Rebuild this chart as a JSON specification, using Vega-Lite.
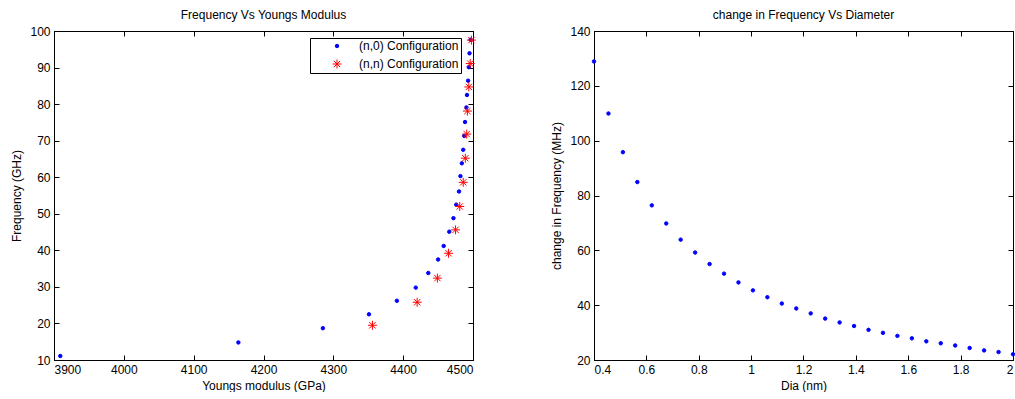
{
  "$schema": "https://vega.github.io/schema/vega-lite/v6.json",
  "background": "white",
  "padding": {"left": 10, "top": 8, "right": 0, "bottom": 0},
  "bounds": "flush",
  "spacing": 121,
  "datasets": {
    "young": [
      {"E": 3909, "f": 11.1, "config": "(n,0) Configuration"},
      {"E": 4164, "f": 14.8, "config": "(n,0) Configuration"},
      {"E": 4285, "f": 18.7, "config": "(n,0) Configuration"},
      {"E": 4351, "f": 22.5, "config": "(n,0) Configuration"},
      {"E": 4391, "f": 26.2, "config": "(n,0) Configuration"},
      {"E": 4418, "f": 29.8, "config": "(n,0) Configuration"},
      {"E": 4436, "f": 33.8, "config": "(n,0) Configuration"},
      {"E": 4450, "f": 37.5, "config": "(n,0) Configuration"},
      {"E": 4458, "f": 41.2, "config": "(n,0) Configuration"},
      {"E": 4466, "f": 45.1, "config": "(n,0) Configuration"},
      {"E": 4472, "f": 48.8, "config": "(n,0) Configuration"},
      {"E": 4476, "f": 52.5, "config": "(n,0) Configuration"},
      {"E": 4480, "f": 56.1, "config": "(n,0) Configuration"},
      {"E": 4482, "f": 60.3, "config": "(n,0) Configuration"},
      {"E": 4484, "f": 63.8, "config": "(n,0) Configuration"},
      {"E": 4486, "f": 67.5, "config": "(n,0) Configuration"},
      {"E": 4487.5, "f": 71.3, "config": "(n,0) Configuration"},
      {"E": 4488.6, "f": 75.1, "config": "(n,0) Configuration"},
      {"E": 4490.6, "f": 79.1, "config": "(n,0) Configuration"},
      {"E": 4491.4, "f": 82.5, "config": "(n,0) Configuration"},
      {"E": 4493, "f": 86.4, "config": "(n,0) Configuration"},
      {"E": 4494, "f": 90.1, "config": "(n,0) Configuration"},
      {"E": 4495, "f": 93.9, "config": "(n,0) Configuration"},
      {"E": 4496.5, "f": 97.6, "config": "(n,0) Configuration"},
      {"E": 4356, "f": 19.5, "config": "(n,n) Configuration"},
      {"E": 4420, "f": 25.8, "config": "(n,n) Configuration"},
      {"E": 4449, "f": 32.4, "config": "(n,n) Configuration"},
      {"E": 4465, "f": 39.2, "config": "(n,n) Configuration"},
      {"E": 4475, "f": 45.6, "config": "(n,n) Configuration"},
      {"E": 4481, "f": 52.0, "config": "(n,n) Configuration"},
      {"E": 4486, "f": 58.6, "config": "(n,n) Configuration"},
      {"E": 4489, "f": 65.2, "config": "(n,n) Configuration"},
      {"E": 4491, "f": 71.8, "config": "(n,n) Configuration"},
      {"E": 4492, "f": 78.1, "config": "(n,n) Configuration"},
      {"E": 4494, "f": 84.7, "config": "(n,n) Configuration"},
      {"E": 4496, "f": 91.1, "config": "(n,n) Configuration"},
      {"E": 4497.7, "f": 97.5, "config": "(n,n) Configuration"}
    ],
    "dia": [
      {"d": 0.4, "df": 128.9}, {"d": 0.4552, "df": 109.9}, {"d": 0.5103, "df": 95.8},
      {"d": 0.5655, "df": 84.9}, {"d": 0.6207, "df": 76.4}, {"d": 0.6759, "df": 69.8},
      {"d": 0.731, "df": 63.9}, {"d": 0.7862, "df": 59.2}, {"d": 0.8414, "df": 55.0},
      {"d": 0.8966, "df": 51.5}, {"d": 0.9517, "df": 48.3}, {"d": 1.0069, "df": 45.4},
      {"d": 1.0621, "df": 42.9}, {"d": 1.1172, "df": 40.6}, {"d": 1.1724, "df": 38.8},
      {"d": 1.2276, "df": 37.0}, {"d": 1.2828, "df": 35.1}, {"d": 1.3379, "df": 33.7},
      {"d": 1.3931, "df": 32.4}, {"d": 1.4483, "df": 31.0}, {"d": 1.5034, "df": 29.9},
      {"d": 1.5586, "df": 28.8}, {"d": 1.6138, "df": 27.9}, {"d": 1.669, "df": 26.8},
      {"d": 1.7241, "df": 26.1}, {"d": 1.7793, "df": 25.3}, {"d": 1.8345, "df": 24.4},
      {"d": 1.8897, "df": 23.5}, {"d": 1.9448, "df": 22.9}, {"d": 2.0, "df": 22.1}
    ]
  },
  "hconcat": [
    {
      "width": 419,
      "height": 329,
      "title": "Frequency Vs Youngs Modulus",
      "data": {"name": "young"},
      "resolve": {"scale": {"x": "independent", "y": "independent"}},
      "layer": [
        {
          "mark": {"type": "point", "filled": true, "strokeWidth": 1, "opacity": 1},
          "encoding": {
            "x": {"field": "E", "type": "quantitative", "title": "Youngs modulus (GPa)",
                  "scale": {"domain": [3900, 4500], "nice": false, "zero": false},
                  "axis": {"values": [3900, 4000, 4100, 4200, 4300, 4400, 4500], "format": "d"}},
            "y": {"field": "f", "type": "quantitative", "title": "Frequency (GHz)",
                  "scale": {"domain": [10, 100], "nice": false, "zero": false},
                  "axis": {"values": [10, 20, 30, 40, 50, 60, 70, 80, 90, 100]}},
            "color": {"field": "config", "type": "nominal", "title": null,
                      "scale": {"domain": ["(n,0) Configuration", "(n,n) Configuration"], "range": ["#0000ff", "#ff0000"]},
                      "legend": {"orient": "none", "legendX": 256, "legendY": 7}},
            "stroke": {"field": "config", "type": "nominal", "title": null,
                       "scale": {"domain": ["(n,0) Configuration", "(n,n) Configuration"], "range": ["#0000ff", "#ff0000"]},
                       "legend": {"orient": "none", "legendX": 256, "legendY": 7}},
            "shape": {"field": "config", "type": "nominal", "title": null,
                      "scale": {"domain": ["(n,0) Configuration", "(n,n) Configuration"], "range": ["circle", "M-1,0L1,0M0,-1L0,1M-0.7,-0.7L0.7,0.7M-0.7,0.7L0.7,-0.7"]},
                      "legend": {"orient": "none", "legendX": 256, "legendY": 7}},
            "size": {"field": "config", "type": "nominal", "title": null,
                     "scale": {"domain": ["(n,0) Configuration", "(n,n) Configuration"], "range": [12, 81]},
                     "legend": {"orient": "none", "legendX": 256, "legendY": 7}}
          }
        },
        {
          "mark": {"type": "point", "opacity": 0},
          "encoding": {
            "x": {"field": "E", "type": "quantitative",
                  "scale": {"domain": [3900, 4500], "nice": false, "zero": false},
                  "axis": {"orient": "top", "labels": false, "title": null, "values": [3900, 4000, 4100, 4200, 4300, 4400, 4500]}},
            "y": {"field": "f", "type": "quantitative",
                  "scale": {"domain": [10, 100], "nice": false, "zero": false},
                  "axis": {"orient": "right", "labels": false, "title": null, "values": [10, 20, 30, 40, 50, 60, 70, 80, 90, 100]}}
          }
        }
      ]
    },
    {
      "width": 419,
      "height": 329,
      "title": "change in Frequency Vs Diameter",
      "data": {"name": "dia"},
      "resolve": {"scale": {"x": "independent", "y": "independent"}},
      "layer": [
        {
          "mark": {"type": "point", "filled": true, "size": 12, "strokeWidth": 1, "color": "#0000ff", "stroke": "#0000ff", "opacity": 1},
          "encoding": {
            "x": {"field": "d", "type": "quantitative", "title": "Dia (nm)",
                  "scale": {"domain": [0.4, 2], "nice": false, "zero": false},
                  "axis": {"values": [0.4, 0.6, 0.8, 1, 1.2, 1.4, 1.6, 1.8, 2], "format": "~g"}},
            "y": {"field": "df", "type": "quantitative", "title": "change in Frequency (MHz)",
                  "scale": {"domain": [20, 140], "nice": false, "zero": false},
                  "axis": {"values": [20, 40, 60, 80, 100, 120, 140]}}
          }
        },
        {
          "mark": {"type": "point", "opacity": 0},
          "encoding": {
            "x": {"field": "d", "type": "quantitative",
                  "scale": {"domain": [0.4, 2], "nice": false, "zero": false},
                  "axis": {"orient": "top", "labels": false, "title": null, "values": [0.4, 0.6, 0.8, 1, 1.2, 1.4, 1.6, 1.8, 2]}},
            "y": {"field": "df", "type": "quantitative",
                  "scale": {"domain": [20, 140], "nice": false, "zero": false},
                  "axis": {"orient": "right", "labels": false, "title": null, "values": [20, 40, 60, 80, 100, 120, 140]}}
          }
        }
      ]
    }
  ],
  "config": {
    "font": "Liberation Sans",
    "view": {"stroke": "black", "strokeWidth": 1},
    "axis": {
      "grid": false, "domainColor": "black", "domainWidth": 1, "tickColor": "black", "tickSize": -5,
      "labelFontSize": 12, "labelColor": "black", "labelPadding": 9,
      "titleFontSize": 12, "titleFontWeight": "normal", "titleColor": "black"
    },
    "axisY": {"titlePadding": 6},
    "axisX": {"titlePadding": 5},
    "title": {"fontSize": 12, "fontWeight": "normal", "offset": 3, "color": "black"},
    "legend": {
      "strokeColor": "black", "fillColor": "white", "padding": 2,
      "labelFontSize": 12, "labelColor": "black", "rowPadding": 5,
      "symbolOffset": 19, "labelOffset": 16, "symbolStrokeWidth": 1, "columnPadding": 0
    }
  }
}
